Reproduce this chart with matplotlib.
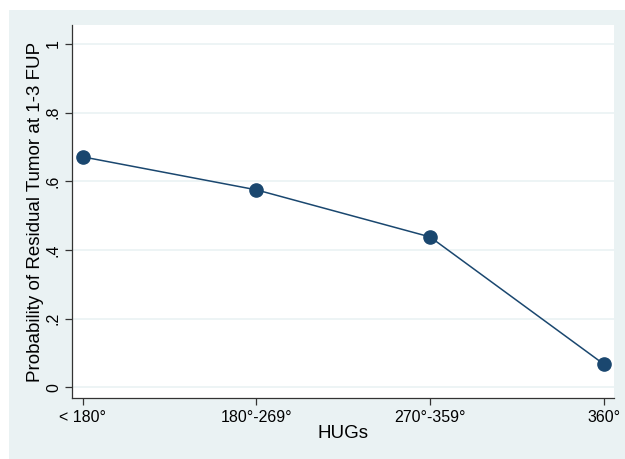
import matplotlib
matplotlib.use("Agg")
import matplotlib.pyplot as plt
from matplotlib.patches import Rectangle

categories = ["< 180°", "180°-269°", "270°-359°", "360°"]
probability = [0.671, 0.575, 0.438, 0.068]
yticks = [0, 0.2, 0.4, 0.6, 0.8, 1.0]
ytick_labels = ["0", ".2", ".4", ".6", ".8", "1"]

plt.rcParams['font.family'] = ['Liberation Sans', 'DejaVu Sans']

W, H = 625, 459
fig = plt.figure(figsize=(W / 100, H / 100), dpi=100)
fig.patch.set_facecolor("white")
fig.patches.append(Rectangle((9 / W, 0), 1, (H - 10) / H,
                             transform=fig.transFigure, facecolor="#EAF2F3",
                             edgecolor="none", zorder=-10))

ax = fig.add_axes([72 / W, 1 - 398 / H, (614 - 72) / W, (398 - 25) / H])
ax.set_zorder(1)
ax.set_facecolor("white")
x = list(range(len(categories)))
ax.plot(x, probability, color="#1A476F", lw=1.1, marker="o", markersize=9.5,
        markeredgecolor="#1A476F", zorder=3)

ax.set_xlim(-0.063, 3.06)
ax.set_ylim(-0.031, 1.055)
ax.set_yticks(yticks)
ax.set_yticklabels(ytick_labels, rotation=90, va="center")
ax.set_xticks(x)
ax.set_xticklabels(categories)
ax.grid(axis="y", color="#EAF2F3", lw=1.2)
ax.set_axisbelow(True)
for s in ["top", "right"]:
    ax.spines[s].set_visible(False)
for s in ["left", "bottom"]:
    ax.spines[s].set_color("#333333")
    ax.spines[s].set_linewidth(0.9)
ax.tick_params(axis="both", colors="#333333", labelcolor="black", length=5,
               width=0.9, labelsize=11.5, pad=4)
ax.tick_params(axis="y", pad=3)
ax.set_xlabel("HUGs", fontsize=13.5, labelpad=0)
ax.set_ylabel("Probability of Residual Tumor at 1-3 FUP", fontsize=13.5, labelpad=1)

fig.savefig("out.png", dpi=100)
